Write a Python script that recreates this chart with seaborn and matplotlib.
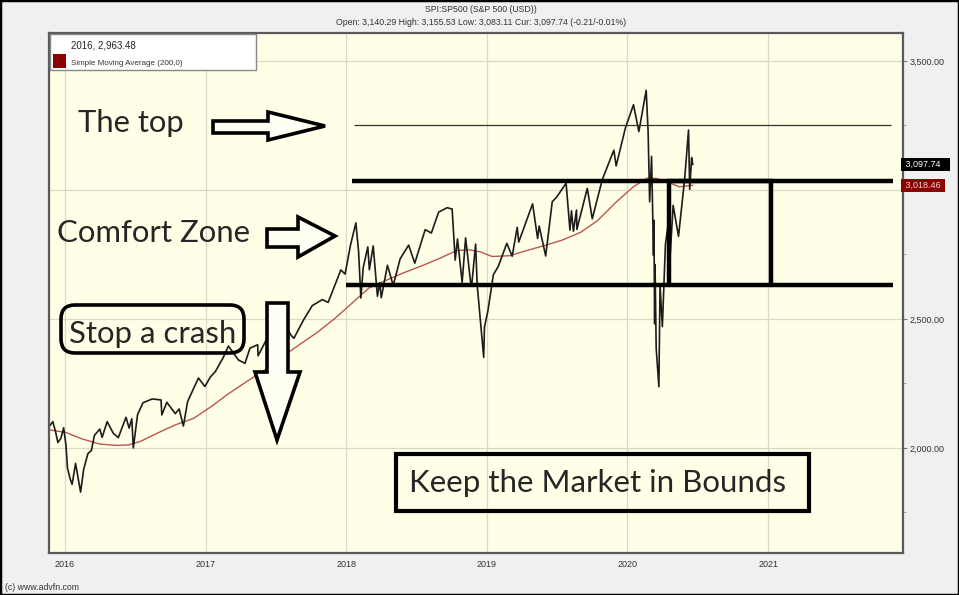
import numpy as np
import pandas as pd
import seaborn as sns
import matplotlib.pyplot as plt
import matplotlib.dates as mdates
from matplotlib.patches import Polygon, Rectangle, FancyBboxPatch
from matplotlib.transforms import IdentityTransform

# S&P 500 closes (approx.)
price_dates = [
    "2015-11-23", "2015-12-01", "2015-12-08", "2015-12-14", "2015-12-22", "2015-12-29",
    "2016-01-04", "2016-01-08", "2016-01-15", "2016-01-20", "2016-01-29", "2016-02-05",
    "2016-02-11", "2016-02-19", "2016-03-01", "2016-03-10", "2016-03-18", "2016-04-01",
    "2016-04-07", "2016-04-20", "2016-05-06", "2016-05-19", "2016-06-08", "2016-06-16",
    "2016-06-23", "2016-06-27", "2016-07-08", "2016-07-22", "2016-08-15", "2016-09-07",
    "2016-09-09", "2016-09-22", "2016-10-14", "2016-10-24", "2016-11-04", "2016-11-15",
    "2016-12-13", "2016-12-30", "2017-01-13", "2017-01-26", "2017-02-15", "2017-03-01",
    "2017-03-27", "2017-04-13", "2017-04-26", "2017-05-16", "2017-05-17", "2017-06-19",
    "2017-06-29", "2017-07-26", "2017-08-10", "2017-08-18", "2017-09-12", "2017-10-05",
    "2017-10-31", "2017-11-15", "2017-12-18", "2017-12-29", "2018-01-12", "2018-01-26",
    "2018-02-02", "2018-02-08", "2018-02-14", "2018-02-26", "2018-03-02", "2018-03-12",
    "2018-03-23", "2018-03-29", "2018-04-02", "2018-04-18", "2018-05-03", "2018-05-21",
    "2018-06-12", "2018-06-28", "2018-07-25", "2018-08-10", "2018-08-29", "2018-09-20",
    "2018-10-03", "2018-10-11", "2018-10-17", "2018-10-29", "2018-11-07", "2018-11-20",
    "2018-11-23", "2018-12-03", "2018-12-07", "2018-12-24", "2018-12-26", "2019-01-04",
    "2019-01-18", "2019-01-31", "2019-02-22", "2019-03-08", "2019-03-21", "2019-03-25",
    "2019-04-30", "2019-05-13", "2019-05-17", "2019-06-03", "2019-06-20", "2019-07-02",
    "2019-07-26", "2019-08-05", "2019-08-09", "2019-08-14", "2019-08-22", "2019-08-23",
    "2019-09-19", "2019-10-02", "2019-10-28", "2019-11-27", "2019-12-03", "2019-12-27",
    "2020-01-17", "2020-01-31", "2020-02-19", "2020-02-24", "2020-02-28", "2020-03-04",
    "2020-03-09", "2020-03-10", "2020-03-12", "2020-03-13", "2020-03-16", "2020-03-23",
    "2020-03-26", "2020-04-01", "2020-04-09", "2020-04-17", "2020-04-21", "2020-04-29",
    "2020-05-13", "2020-05-29", "2020-06-08", "2020-06-11", "2020-06-16", "2020-06-19",
]
price_close = [
    2086, 2102, 2063, 2021, 2038, 2078,
    2012, 1922, 1880, 1859, 1940, 1880,
    1829, 1917, 1978, 1990, 2049, 2073,
    2041, 2102, 2057, 2040, 2119, 2077,
    2113, 2000, 2129, 2175, 2190, 2186,
    2128, 2177, 2133, 2151, 2085, 2180,
    2271, 2238, 2275, 2296, 2349, 2395,
    2341, 2328, 2387, 2400, 2357, 2453,
    2419, 2477, 2438, 2425, 2496, 2552,
    2575, 2564, 2690, 2674, 2786, 2872,
    2762, 2581, 2698, 2779, 2691, 2783,
    2588, 2641, 2582, 2708, 2630, 2733,
    2786, 2716, 2846, 2833, 2914, 2931,
    2926, 2728, 2810, 2641, 2814, 2642,
    2633, 2790, 2633, 2351, 2468, 2532,
    2671, 2704, 2793, 2743, 2855, 2798,
    2946, 2812, 2860, 2744, 2954, 2973,
    3026, 2844, 2919, 2840, 2922, 2847,
    3006, 2888, 3040, 3154, 3093, 3240,
    3330, 3226, 3386, 3226, 2954, 3130,
    2747, 2882, 2481, 2711, 2386, 2237,
    2630, 2470, 2790, 2875, 2737, 2940,
    2820, 3044, 3232, 3002, 3125, 3098,
]

# 200-day simple moving average (approx.)
sma_dates = [
    "2015-11-23", "2016-01-04", "2016-02-15", "2016-04-01", "2016-05-15", "2016-06-15",
    "2016-07-15", "2016-09-01", "2016-10-15", "2016-12-01", "2017-01-15", "2017-03-01",
    "2017-04-15", "2017-06-01", "2017-07-15", "2017-09-01", "2017-10-15", "2017-12-01",
    "2018-01-15", "2018-03-01", "2018-04-15", "2018-06-01", "2018-07-15", "2018-09-01",
    "2018-10-15", "2018-11-15", "2018-12-15", "2019-01-15", "2019-03-01", "2019-04-15",
    "2019-06-01", "2019-07-15", "2019-09-01", "2019-10-15", "2019-12-01", "2020-01-15",
    "2020-02-20", "2020-03-15", "2020-04-15", "2020-05-15", "2020-06-19",
]
sma_values = [
    2070, 2060, 2035, 2015, 2010, 2012,
    2025, 2060, 2090, 2115, 2160, 2210,
    2255, 2300, 2350, 2400, 2445, 2500,
    2560, 2620, 2650, 2680, 2705, 2735,
    2765, 2768, 2760, 2742, 2745, 2765,
    2785, 2805, 2835, 2880, 2950, 3010,
    3045, 3045, 3030, 3012, 3018,
]

# hand-drawn levels
top_level = 3252
zone_high = 3035
zone_low = 2632
top_start, line_end = "2018-01-22", "2021-11-15"
zone_start, zone_end = "2018-01-17", "2021-11-22"
low_start = "2018-01-01"
box_start, box_end = "2020-04-17", "2021-01-08"

W, H = 959, 595
BG = "#f0f0f0"
PLOT_BG = "#fffee6"

sns.set_style("white")
plt.rcParams["font.family"] = ["Liberation Sans", "DejaVu Sans"]

df_price = pd.DataFrame({"date": pd.to_datetime(price_dates), "close": price_close})
df_sma = pd.DataFrame({"date": pd.to_datetime(sma_dates), "sma": sma_values})

fig = plt.figure(figsize=(W / 100, H / 100), dpi=100, facecolor=BG)
ax = fig.add_axes([49 / W, 1 - 553 / H, 854 / W, 520 / H])
ax.set_facecolor(PLOT_BG)

sns.lineplot(data=df_sma, x="date", y="sma", ax=ax, color="#b8574f", lw=1.0)
sns.lineplot(data=df_price, x="date", y="close", ax=ax, color="#1c1c1c", lw=1.2)

ax.set_xlim(pd.Timestamp("2015-11-21"), pd.Timestamp("2021-12-17"))
ax.set_ylim(1593, 3608)
ax.set_xlabel("")
ax.set_ylabel("")

ax.xaxis.set_major_locator(mdates.YearLocator())
ax.xaxis.set_major_formatter(mdates.DateFormatter("%Y"))
ax.yaxis.tick_right()
ax.set_yticks([2000, 2500, 3000, 3500])
ax.set_yticklabels(["2,000.00", "2,500.00", "", "3,500.00"])
ax.set_yticks([1750, 2250, 2750, 3250], minor=True)
ax.tick_params(axis="both", labelsize=6.5, labelcolor="#333333", color="#777777",
               length=3, width=0.8, pad=2)
ax.tick_params(axis="y", which="minor", length=2, color="#999999")
ax.grid(True, color="#d9d9c6", lw=0.9)
for s in ax.spines.values():
    s.set_color("#5a5a5a")
    s.set_linewidth(1.6)

# drawn lines and box
ax.hlines(top_level, pd.Timestamp(top_start), pd.Timestamp(line_end), color="#333333", lw=0.9)
ax.hlines(zone_high, pd.Timestamp(zone_start), pd.Timestamp(zone_end), color="black", lw=3.2)
ax.hlines(zone_low, pd.Timestamp(low_start), pd.Timestamp(zone_end), color="black", lw=3.2)
bx = [pd.Timestamp(box_start), pd.Timestamp(box_start), pd.Timestamp(box_end), pd.Timestamp(box_end)]
ax.plot(bx, [zone_low, zone_high, zone_high, zone_low], color="black", lw=3.2,
        solid_joinstyle="miter")

# price badges on the right axis
ax.text(1.0, 3097.74, " 3,097.74   ", transform=ax.get_yaxis_transform(), fontsize=6.5,
        color="white", va="center", ha="left",
        bbox=dict(facecolor="black", edgecolor="none", pad=1.5), clip_on=False)
ax.text(1.0, 3018.46, " 3,018.46 ", transform=ax.get_yaxis_transform(), fontsize=6.5,
        color="#ffd0d0", va="center", ha="left",
        bbox=dict(facecolor="#8b0000", edgecolor="none", pad=1.5), clip_on=False)

# helpers in pixel space (y from top)
px = IdentityTransform()


def P(x, y):
    return (x, H - y)


def arrow_right(x0, x1, xt, ys0, ys1, yh0, yh1, yt):
    pts = [P(x0, ys0), P(x1, ys0), P(x1, yh0), P(xt, yt), P(x1, yh1), P(x1, ys1), P(x0, ys1)]
    fig.patches.append(Polygon(pts, closed=True, transform=px, facecolor="#fffff4",
                               edgecolor="black", lw=2.6, joinstyle="miter"))


def arrow_down(xs0, xs1, y0, y1, xh0, xh1, xt, yt):
    pts = [P(xs0, y0), P(xs1, y0), P(xs1, y1), P(xh1, y1), P(xt, yt), P(xh0, y1), P(xs0, y1)]
    fig.patches.append(Polygon(pts, closed=True, transform=px, facecolor="#fffff4",
                               edgecolor="black", lw=2.6, joinstyle="miter"))


big = ["Lato", "DejaVu Sans"]
fig.text(78 / W, 1 - 132 / H, "The top", family=big, fontsize=22.3, va="baseline")
arrow_right(213, 268, 325, 121, 133, 112, 140, 126)

fig.text(57 / W, 1 - 242 / H, "Comfort Zone", family=big, fontsize=22.4, va="baseline")
arrow_right(267, 298, 335, 229, 247, 217, 257, 236)

fig.patches.append(FancyBboxPatch(P(61, 353), 183, 48, boxstyle="round,pad=0,rounding_size=14",
                                  transform=px, facecolor="none", edgecolor="black", lw=2.6))
fig.text(69 / W, 1 - 343 / H, "Stop a crash", family=big, fontsize=22.4, va="baseline")
arrow_down(267, 288, 303, 372, 255, 300, 277, 440)

fig.patches.append(Rectangle(P(396, 511), 413, 57, transform=px, facecolor="none",
                             edgecolor="black", lw=3.0))
fig.text(409 / W, 1 - 492 / H, "Keep the Market in Bounds", family=big, fontsize=22.5,
         va="baseline")

# legend box
fig.patches.append(Rectangle(P(50, 70), 206, 36, transform=px, facecolor="white",
                             edgecolor="#888888", lw=1.0))
fig.patches.append(Rectangle(P(53, 68), 13, 14, transform=px, facecolor="#8b0000",
                             edgecolor="none"))
fig.text(71 / W, 1 - 48 / H, "2016, 2,963.48", fontsize=7, color="#222222", va="baseline")
fig.text(71 / W, 1 - 65 / H, "Simple Moving Average (200,0)", fontsize=5.8, color="#333333",
         va="baseline")

# header and footer
fig.text(481 / W, 1 - 12 / H, "SPI:SP500 (S&P 500 (USD))", fontsize=6.3, color="#333333",
         ha="center", va="baseline")
fig.text(481 / W, 1 - 25 / H,
         "Open: 3,140.29 High: 3,155.53 Low: 3,083.11 Cur: 3,097.74 (-0.21/-0.01%)",
         fontsize=6.3, color="#333333", ha="center", va="baseline")
fig.text(5 / W, 1 - 590 / H, "(c) www.advfn.com", fontsize=6.3, color="#333333", va="baseline")

fig.patches.append(Rectangle((0, 0), 1, 1, transform=fig.transFigure, facecolor="none",
                             edgecolor="black", lw=2.5))

fig.savefig("out.png", dpi=100, facecolor=BG)
